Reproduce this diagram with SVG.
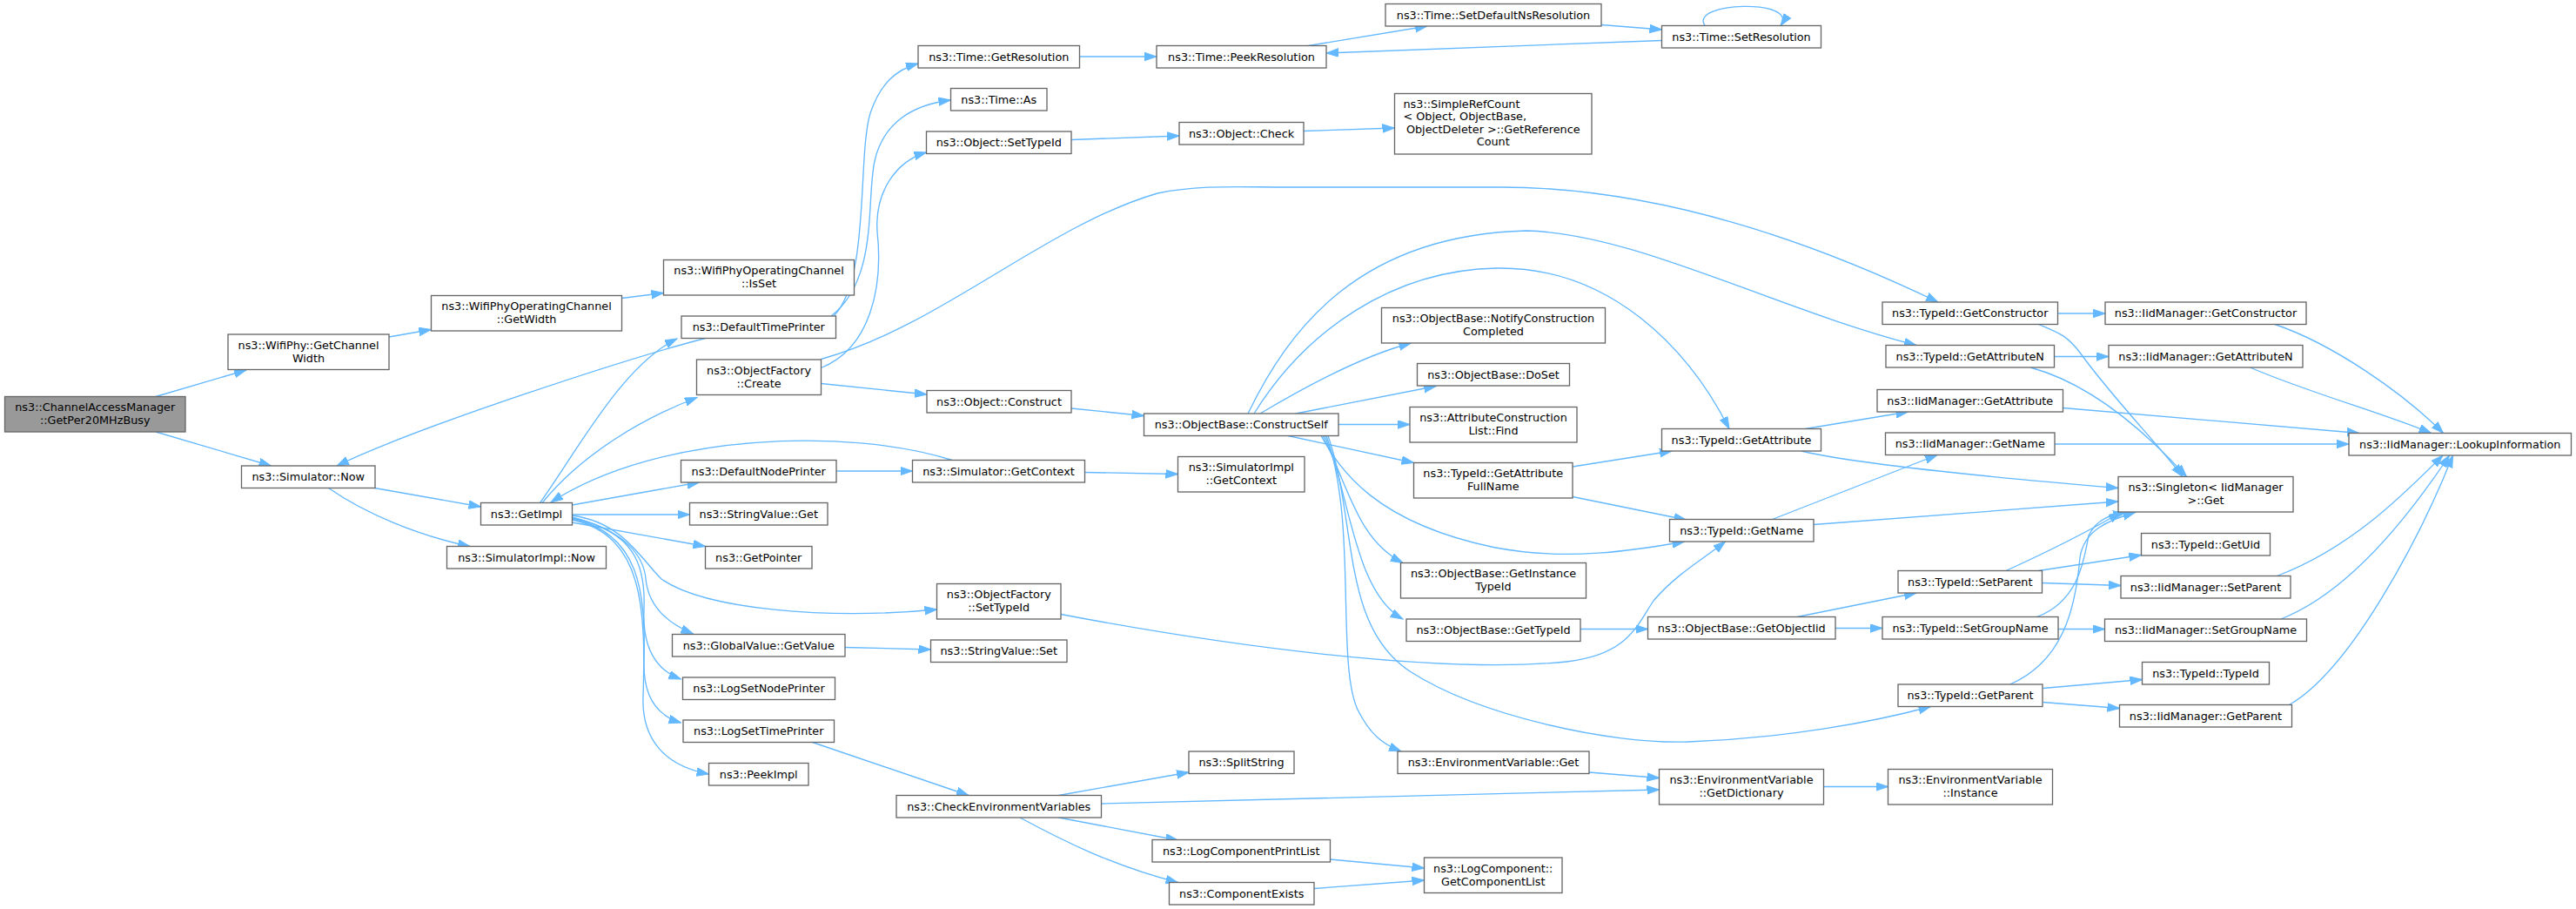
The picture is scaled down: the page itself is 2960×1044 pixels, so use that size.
<svg xmlns="http://www.w3.org/2000/svg" width="2960" height="1044" viewBox="0 0 2960 1044">
<style>
.node rect{fill:#ffffff;stroke:#666666;stroke-width:1.33}
.root rect{fill:#999999}
text{font-family:"DejaVu Sans","Liberation Sans",sans-serif;font-size:12.8px;fill:#000000;text-anchor:middle}
text.l{text-anchor:start}
.edges path{fill:none;stroke:#63b8ff;stroke-width:1.33;marker-end:url(#arr)}
</style>
<defs>
<marker id="arr" markerUnits="userSpaceOnUse" markerWidth="15" markerHeight="11" refX="14" refY="5" orient="auto">
<path d="M0,0.25 L14,5 L0,9.75 Z" fill="#63b8ff" stroke="#63b8ff" stroke-width="1"/>
</marker>
</defs>
<rect width="2960" height="1044" fill="#ffffff"/>
<g class="edges" id="edges">
<path d="M179,455.5 L283,425"/>
<path d="M179,496 L311.5,535"/>
<path d="M447,387 L495.5,378.5"/>
<path d="M714.5,342.5 L762.5,336.5"/>
<path d="M810.5,388.5 C720,412 480,490 387,535"/>
<path d="M430.5,560.5 L552.5,582"/>
<path d="M377.5,560.5 C420,590 480,615 540,627.5"/>
<path d="M620.5,577.5 C665,515 715,420 778,389"/>
<path d="M623,577.5 C670,520 740,480 801,456.5"/>
<path d="M1094,528.5 C980,492 760,495 633,577"/>
<path d="M657.5,580 L803.5,554"/>
<path d="M657.5,591 L792.5,591"/>
<path d="M657.5,600 L810.5,627.5"/>
<path d="M657.5,592 C715,600 735,640 760,665 C810,700 950,712 1076.5,700"/>
<path d="M657.5,594 C720,610 740,640 742,665 C745,695 765,715 796.5,728"/>
<path d="M657.5,595 C730,610 742,650 740,700 C738,745 755,770 782.5,780"/>
<path d="M657.5,596 C735,612 742,680 740,760 C739,800 755,822 782.5,830"/>
<path d="M657.5,597 C740,615 742,700 739,800 C737,850 765,880 814.5,889"/>
<path d="M958,363 C1000,320 985,180 1000,130 C1012,95 1030,80 1055,73"/>
<path d="M955,363 C1010,320 995,230 1005,185 C1015,140 1050,120 1092.5,115"/>
<path d="M943.5,422.5 C1000,400 1015,330 1008,266 C1005,220 1030,185 1064.5,175"/>
<path d="M943.5,412.5 C1080,375 1200,260 1330,222 C1380,212 1420,215 1480,215 L1725,215 C1880,215 2050,262 2227,347"/>
<path d="M943.5,440.5 L1065,453"/>
<path d="M1231,469 L1314.5,477.5"/>
<path d="M1240.5,65 L1329,65"/>
<path d="M1503.5,52.5 L1640,30"/>
<path d="M1840,28.5 L1909.5,34"/>
<path d="M1909.5,46.5 L1524,61"/>
<path d="M1959,29.5 C1940,2 2068,-2 2046,29.5"/>
<path d="M1231,160.5 L1355,156"/>
<path d="M1498,150.5 L1602.5,147"/>
<path d="M1448,475 C1490,450 1560,410 1621.5,394"/>
<path d="M1489,475 L1650,443.5"/>
<path d="M1538,487.5 L1620,487.5"/>
<path d="M1434,475 C1480,380 1560,270 1754,265 C1880,268 2040,355 2202,396.5"/>
<path d="M1441,475 C1500,380 1600,310 1720,308 C1850,306 1940,400 1987,492.5"/>
<path d="M1480,500.5 L1624.5,531.5"/>
<path d="M1518,500.5 C1540,540 1580,600 1716,628.5 C1800,645 1880,632 1935.5,622"/>
<path d="M1520,500.5 C1550,560 1560,620 1612,646.5"/>
<path d="M1522,500.5 C1550,560 1555,680 1612,711"/>
<path d="M1524,500.5 C1560,600 1535,760 1560,815 C1575,845 1590,855 1610,863"/>
<path d="M1526,500.5 C1560,600 1540,720 1621.6,772 C1700,822 1850,855 1940,852 C2050,848 2150,830 2218.5,811.5"/>
<path d="M1219,705.5 C1400,740 1650,775 1800,760 C1870,752 1880,720 1900,690 C1925,660 1960,640 1982.5,622"/>
<path d="M1807,536 L1921,518"/>
<path d="M1807,570.5 L1937.5,597"/>
<path d="M1816,722.5 L1893.5,722.5"/>
<path d="M2065,708.5 L2202,681"/>
<path d="M2109,721.5 L2163,721.5"/>
<path d="M2074.5,492.5 L2192.5,473"/>
<path d="M2070,518 C2120,530 2250,545 2434,560.5"/>
<path d="M2036.5,596.5 L2226,522.5"/>
<path d="M2084,602.5 L2434,576"/>
<path d="M2364.5,360 L2419,360"/>
<path d="M2360.5,409.5 L2423,409.5"/>
<path d="M2614,372.5 C2680,395 2760,450 2807.5,497.5"/>
<path d="M2585.5,422 C2650,450 2740,475 2793.5,497.5"/>
<path d="M2370.5,468.5 L2711,497.5"/>
<path d="M2361,510 L2699,510"/>
<path d="M2342.5,372.5 C2365,382 2375,385 2390,405 C2430,460 2480,510 2508,547.5"/>
<path d="M2333,422 C2400,440 2460,490 2512.5,547.5"/>
<path d="M2305,655.5 C2350,635 2400,610 2437,588.5"/>
<path d="M2342.5,655.5 L2460.5,637.5"/>
<path d="M2346.5,669.5 L2437,672.5"/>
<path d="M2340.5,708.5 C2390,690 2395,640 2400,615 C2410,595 2425,592 2442,589"/>
<path d="M2365,722.5 L2418.5,722.5"/>
<path d="M2309.5,786 C2370,760 2385,700 2390,640 C2395,610 2420,598 2453.5,588.5"/>
<path d="M2347.5,790.5 L2461.5,780.5"/>
<path d="M2347.5,806.5 L2435.5,813.5"/>
<path d="M2616.5,661.5 C2700,630 2760,570 2807,523"/>
<path d="M2621,711 C2700,680 2770,590 2814.5,523"/>
<path d="M2630.5,809.5 C2700,770 2780,620 2818.5,523"/>
<path d="M960.5,541 L1048.5,541"/>
<path d="M1246.5,542.5 L1353.5,544.5"/>
<path d="M971,743.5 L1069.5,746"/>
<path d="M933.5,852.5 C1000,875 1060,895 1113,913.5"/>
<path d="M1216.5,913.5 L1366,887"/>
<path d="M1265.5,923 L1906.5,907"/>
<path d="M1216.5,939 L1353.5,965"/>
<path d="M1172,939 C1220,965 1280,995 1353.5,1013.5"/>
<path d="M1528.5,987 L1636.5,997"/>
<path d="M1510,1020.5 L1636.5,1011"/>
<path d="M1826,887 L1906.5,893.5"/>
<path d="M2096,903.5 L2169.5,903.5"/>
</g>
<g id="n0" class="node root"><rect x="5.5" y="455.5" width="207.5" height="40.5"/><text x="109.25" y="472">ns3::ChannelAccessManager</text><text x="109.25" y="487">::GetPer20MHzBusy</text></g>
<g id="n1" class="node"><rect x="262" y="384" width="185" height="40.5"/><text x="354.5" y="400.5">ns3::WifiPhy::GetChannel</text><text x="354.5" y="415.5">Width</text></g>
<g id="n2" class="node"><rect x="495.5" y="339.5" width="219" height="40.5"/><text x="605" y="356">ns3::WifiPhyOperatingChannel</text><text x="605" y="371">::GetWidth</text></g>
<g id="n3" class="node"><rect x="762.5" y="298.5" width="219" height="40.5"/><text x="872" y="315">ns3::WifiPhyOperatingChannel</text><text x="872" y="330">::IsSet</text></g>
<g id="n4" class="node"><rect x="277.5" y="535" width="153.5" height="25.5"/><text x="354.25" y="552">ns3::Simulator::Now</text></g>
<g id="n5" class="node"><rect x="552.5" y="577.5" width="105" height="25.5"/><text x="605" y="594.5">ns3::GetImpl</text></g>
<g id="n6" class="node"><rect x="513.5" y="627.5" width="183" height="25.5"/><text x="605" y="644.5">ns3::SimulatorImpl::Now</text></g>
<g id="n7" class="node"><rect x="783" y="363" width="177.5" height="25.5"/><text x="871.75" y="380">ns3::DefaultTimePrinter</text></g>
<g id="n8" class="node"><rect x="800.5" y="413" width="143" height="40.5"/><text x="872" y="429.5">ns3::ObjectFactory</text><text x="872" y="444.5">::Create</text></g>
<g id="n9" class="node"><rect x="782.5" y="528.5" width="178.5" height="25.5"/><text x="871.75" y="545.5">ns3::DefaultNodePrinter</text></g>
<g id="n10" class="node"><rect x="792.5" y="577.5" width="158.5" height="25.5"/><text x="871.75" y="594.5">ns3::StringValue::Get</text></g>
<g id="n11" class="node"><rect x="810.5" y="627.5" width="122.5" height="25.5"/><text x="871.75" y="644.5">ns3::GetPointer</text></g>
<g id="n12" class="node"><rect x="1076.5" y="670.5" width="142.5" height="40.5"/><text x="1147.75" y="687">ns3::ObjectFactory</text><text x="1147.75" y="702">::SetTypeId</text></g>
<g id="n13" class="node"><rect x="772.5" y="728.5" width="198.5" height="25.5"/><text x="871.75" y="745.5">ns3::GlobalValue::GetValue</text></g>
<g id="n14" class="node"><rect x="784.5" y="778" width="175" height="25.5"/><text x="872" y="795">ns3::LogSetNodePrinter</text></g>
<g id="n15" class="node"><rect x="785" y="827" width="173.5" height="25.5"/><text x="871.75" y="844">ns3::LogSetTimePrinter</text></g>
<g id="n16" class="node"><rect x="814.5" y="876.5" width="114.5" height="25.5"/><text x="871.75" y="893.5">ns3::PeekImpl</text></g>
<g id="n17" class="node"><rect x="1055" y="52.5" width="185.5" height="25.5"/><text x="1147.75" y="69.5">ns3::Time::GetResolution</text></g>
<g id="n18" class="node"><rect x="1092.5" y="101.5" width="110.5" height="25.5"/><text x="1147.75" y="118.5">ns3::Time::As</text></g>
<g id="n19" class="node"><rect x="1064.5" y="151" width="166.5" height="25.5"/><text x="1147.75" y="168">ns3::Object::SetTypeId</text></g>
<g id="n20" class="node"><rect x="1065" y="448.5" width="166" height="25.5"/><text x="1148" y="465.5">ns3::Object::Construct</text></g>
<g id="n21" class="node"><rect x="1048.5" y="528.5" width="198" height="25.5"/><text x="1147.5" y="545.5">ns3::Simulator::GetContext</text></g>
<g id="n22" class="node"><rect x="1069.5" y="735" width="156.5" height="25.5"/><text x="1147.75" y="752">ns3::StringValue::Set</text></g>
<g id="n23" class="node"><rect x="1030" y="913.5" width="235.5" height="25.5"/><text x="1147.75" y="930.5">ns3::CheckEnvironmentVariables</text></g>
<g id="n24" class="node"><rect x="1329" y="52.5" width="195" height="25.5"/><text x="1426.5" y="69.5">ns3::Time::PeekResolution</text></g>
<g id="n25" class="node"><rect x="1355" y="140.5" width="143" height="25.5"/><text x="1426.5" y="157.5">ns3::Object::Check</text></g>
<g id="n26" class="node"><rect x="1314.5" y="475" width="223.5" height="25.5"/><text x="1426.25" y="492">ns3::ObjectBase::ConstructSelf</text></g>
<g id="n27" class="node"><rect x="1353.5" y="524.5" width="145.5" height="40.5"/><text x="1426.25" y="541">ns3::SimulatorImpl</text><text x="1426.25" y="556">::GetContext</text></g>
<g id="n28" class="node"><rect x="1366" y="863" width="121" height="25.5"/><text x="1426.5" y="880">ns3::SplitString</text></g>
<g id="n29" class="node"><rect x="1324" y="964.5" width="204.5" height="25.5"/><text x="1426.25" y="981.5">ns3::LogComponentPrintList</text></g>
<g id="n30" class="node"><rect x="1343.5" y="1013.5" width="166.5" height="25.5"/><text x="1426.75" y="1030.5">ns3::ComponentExists</text></g>
<g id="n31" class="node"><rect x="1592" y="4.5" width="248" height="25.5"/><text x="1716" y="21.5">ns3::Time::SetDefaultNsResolution</text></g>
<g id="n32" class="node"><rect x="1602.5" y="107.5" width="226.5" height="69.5"/><text class="l" x="1612.5" y="123.5">ns3::SimpleRefCount</text><text class="l" x="1612.5" y="138">&lt; Object, ObjectBase,</text><text x="1715.75" y="152.5">ObjectDeleter &gt;::GetReference</text><text x="1715.75" y="167">Count</text></g>
<g id="n33" class="node"><rect x="1587.5" y="353.5" width="257" height="40.5"/><text x="1716" y="370">ns3::ObjectBase::NotifyConstruction</text><text x="1716" y="385">Completed</text></g>
<g id="n34" class="node"><rect x="1628.5" y="417.5" width="175" height="25.5"/><text x="1716" y="434.5">ns3::ObjectBase::DoSet</text></g>
<g id="n35" class="node"><rect x="1620" y="467.5" width="192" height="40.5"/><text x="1716" y="484">ns3::AttributeConstruction</text><text x="1716" y="499">List::Find</text></g>
<g id="n36" class="node"><rect x="1624.5" y="531.5" width="182.5" height="40.5"/><text x="1715.75" y="548">ns3::TypeId::GetAttribute</text><text x="1715.75" y="563">FullName</text></g>
<g id="n37" class="node"><rect x="1609.5" y="646.5" width="213" height="40.5"/><text x="1716" y="663">ns3::ObjectBase::GetInstance</text><text x="1716" y="678">TypeId</text></g>
<g id="n38" class="node"><rect x="1616" y="711" width="200" height="25.5"/><text x="1716" y="728">ns3::ObjectBase::GetTypeId</text></g>
<g id="n39" class="node"><rect x="1606" y="863" width="220" height="25.5"/><text x="1716" y="880">ns3::EnvironmentVariable::Get</text></g>
<g id="n40" class="node"><rect x="1636.5" y="985" width="158.5" height="40.5"/><text x="1715.75" y="1001.5">ns3::LogComponent::</text><text x="1715.75" y="1016.5">GetComponentList</text></g>
<g id="n41" class="node"><rect x="1909.5" y="29.5" width="183" height="25.5"/><text x="2001" y="46.5">ns3::Time::SetResolution</text></g>
<g id="n42" class="node"><rect x="1909.5" y="492.5" width="183" height="25.5"/><text x="2001" y="509.5">ns3::TypeId::GetAttribute</text></g>
<g id="n43" class="node"><rect x="1918.5" y="596.5" width="165.5" height="25.5"/><text x="2001.25" y="613.5">ns3::TypeId::GetName</text></g>
<g id="n44" class="node"><rect x="1893.5" y="708.5" width="215.5" height="25.5"/><text x="2001.25" y="725.5">ns3::ObjectBase::GetObjectIid</text></g>
<g id="n45" class="node"><rect x="1906.5" y="883.5" width="189" height="40.5"/><text x="2001" y="900">ns3::EnvironmentVariable</text><text x="2001" y="915">::GetDictionary</text></g>
<g id="n46" class="node"><rect x="2163" y="347" width="201.5" height="25.5"/><text x="2263.75" y="364">ns3::TypeId::GetConstructor</text></g>
<g id="n47" class="node"><rect x="2167" y="396.5" width="193.5" height="25.5"/><text x="2263.75" y="413.5">ns3::TypeId::GetAttributeN</text></g>
<g id="n48" class="node"><rect x="2157" y="447.5" width="213.5" height="25.5"/><text x="2263.75" y="464.5">ns3::IidManager::GetAttribute</text></g>
<g id="n49" class="node"><rect x="2166.5" y="497" width="194.5" height="25.5"/><text x="2263.75" y="514">ns3::IidManager::GetName</text></g>
<g id="n50" class="node"><rect x="2181" y="655.5" width="165.5" height="25.5"/><text x="2263.75" y="672.5">ns3::TypeId::SetParent</text></g>
<g id="n51" class="node"><rect x="2163" y="708.5" width="202" height="25.5"/><text x="2264" y="725.5">ns3::TypeId::SetGroupName</text></g>
<g id="n52" class="node"><rect x="2181" y="786" width="166" height="25.5"/><text x="2264" y="803">ns3::TypeId::GetParent</text></g>
<g id="n53" class="node"><rect x="2169.5" y="883.5" width="189" height="40.5"/><text x="2264" y="900">ns3::EnvironmentVariable</text><text x="2264" y="915">::Instance</text></g>
<g id="n54" class="node"><rect x="2419" y="347" width="231" height="25.5"/><text x="2534.5" y="364">ns3::IidManager::GetConstructor</text></g>
<g id="n55" class="node"><rect x="2423" y="396.5" width="223" height="25.5"/><text x="2534.5" y="413.5">ns3::IidManager::GetAttributeN</text></g>
<g id="n56" class="node"><rect x="2434" y="547.5" width="201" height="40.5"/><text x="2534.5" y="564">ns3::Singleton&lt; IidManager</text><text x="2534.5" y="579">&gt;::Get</text></g>
<g id="n57" class="node"><rect x="2460.5" y="612.5" width="148" height="25.5"/><text x="2534.5" y="629.5">ns3::TypeId::GetUid</text></g>
<g id="n58" class="node"><rect x="2437" y="661.5" width="195" height="25.5"/><text x="2534.5" y="678.5">ns3::IidManager::SetParent</text></g>
<g id="n59" class="node"><rect x="2418.5" y="711" width="232" height="25.5"/><text x="2534.5" y="728">ns3::IidManager::SetGroupName</text></g>
<g id="n60" class="node"><rect x="2461.5" y="760.5" width="146" height="25.5"/><text x="2534.5" y="777.5">ns3::TypeId::TypeId</text></g>
<g id="n61" class="node"><rect x="2435.5" y="809.5" width="198" height="25.5"/><text x="2534.5" y="826.5">ns3::IidManager::GetParent</text></g>
<g id="n62" class="node"><rect x="2699" y="497.5" width="255.5" height="25.5"/><text x="2826.75" y="514.5">ns3::IidManager::LookupInformation</text></g>
</svg>
